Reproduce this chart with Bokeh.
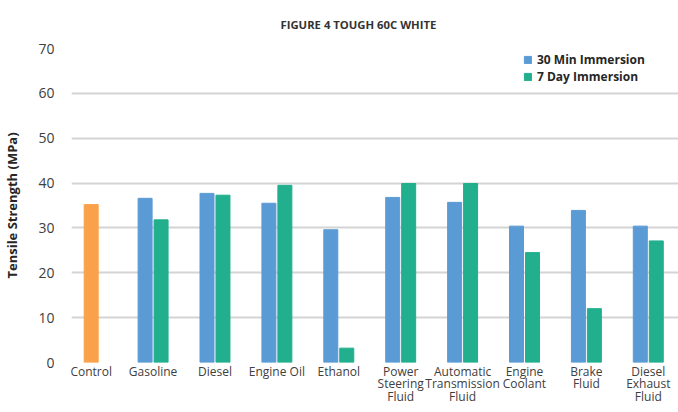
import numpy as np
from bokeh.plotting import figure
from bokeh.models import Range1d, FixedTicker, Legend, LegendItem, Title
from bokeh.embed import file_html
from bokeh.resources import INLINE

categories = ["Control", "Gasoline", "Diesel", "Engine Oil", "Ethanol",
              "Power\nSteering\nFluid", "Automatic\nTransmission\nFluid",
              "Engine\nCoolant", "Brake\nFluid", "Diesel\nExhaust\nFluid"]
control = [35.2, None, None, None, None, None, None, None, None, None]
min30 = [None, 36.6, 37.7, 35.5, 29.6, 36.8, 35.7, 30.4, 33.9, 30.4]
day7 = [None, 31.8, 37.3, 39.5, 3.2, 39.9, 39.9, 24.5, 12.0, 27.1]
y_ticks = [0, 10, 20, 30, 40, 50, 60, 70]
title_text = "FIGURE 4 TOUGH 60C WHITE"

FONT = "Open Sans"
idx = np.arange(len(categories))

p = figure(width=678, height=412, output_backend="svg", toolbar_location=None,
           x_range=Range1d(-0.318, 9.488), y_range=Range1d(0, 70),
           min_border_left=71, min_border_right=0, min_border_top=48,
           min_border_bottom=50)
p.outline_line_color = None
p.background_fill_color = "white"
p.border_fill_color = "white"

def vals(a):
    return [np.nan if v is None else v for v in a]

off = 0.129
w = 0.226
r_c = p.vbar(x=idx, top=vals(control), width=w, color="#F9A24B")
r_a = p.vbar(x=idx - off, top=vals(min30), width=w, color="#5B9BD5")
r_b = p.vbar(x=idx + off, top=vals(day7), width=w, color="#21AF8D")

p.xgrid.grid_line_color = None
p.ygrid.grid_line_color = "#D4D4D4"
p.ygrid.grid_line_width = 1.8
p.ygrid.ticker = FixedTicker(ticks=y_ticks)

p.yaxis.ticker = FixedTicker(ticks=y_ticks)
p.yaxis.axis_line_color = None
p.yaxis.major_tick_line_color = None
p.yaxis.minor_tick_line_color = None
p.yaxis.major_tick_out = 0
p.yaxis.major_tick_in = 0
p.yaxis.major_label_text_font = FONT
p.yaxis.major_label_text_font_size = "14px"
p.yaxis.major_label_text_color = "#404040"
p.yaxis.major_label_standoff = 17
p.yaxis.axis_label = "Tensile Strength (MPa)"
p.yaxis.axis_label_text_font = FONT
p.yaxis.axis_label_text_font_size = "13px"
p.yaxis.axis_label_text_font_style = "bold"
p.yaxis.axis_label_text_color = "#262626"
p.yaxis.axis_label_standoff = 14

p.xaxis.ticker = FixedTicker(ticks=list(idx))
p.xaxis.major_label_overrides = {int(i): c for i, c in zip(idx, categories)}
p.xaxis.axis_line_color = None
p.xaxis.major_tick_line_color = None
p.xaxis.minor_tick_line_color = None
p.xaxis.major_tick_out = 0
p.xaxis.major_tick_in = 0
p.xaxis.major_label_text_font = FONT
p.xaxis.major_label_text_font_size = "12px"
p.xaxis.major_label_text_color = "#404040"
p.xaxis.major_label_standoff = 0
p.xaxis.major_label_text_line_height = 0.75

p.title = Title(text=title_text, text_font=FONT, text_font_size="11.3px",
                text_font_style="bold", text_color="#333333",
                align="left", offset=209, standoff=30, vertical_align="top")

legend = Legend(items=[LegendItem(label="30 Min Immersion", renderers=[r_a]),
                       LegendItem(label="7 Day Immersion", renderers=[r_b])],
                location=(452, 277))
legend.border_line_color = None
legend.background_fill_alpha = 0
legend.padding = 0
legend.margin = 0
legend.spacing = 0
legend.glyph_width = 9
legend.glyph_height = 9
legend.label_height = 16
legend.label_standoff = 5
legend.label_text_font = FONT
legend.label_text_font_size = "12px"
legend.label_text_font_style = "bold"
legend.label_text_color = "#262626"
p.add_layout(legend)

open("out.html", "w").write(file_html(p, INLINE))
